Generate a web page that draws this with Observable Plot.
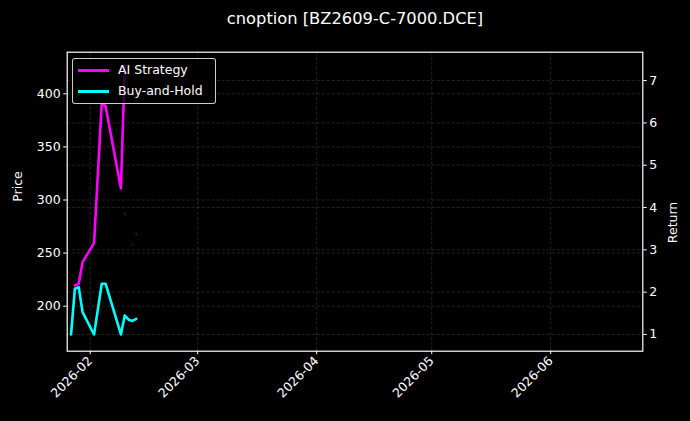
<!DOCTYPE html>
<html><head><meta charset="utf-8">
<script src="https://cdn.jsdelivr.net/npm/d3@7"></script>
<script src="https://cdn.jsdelivr.net/npm/@observablehq/plot@0.6"></script>
<style>
html,body{margin:0;padding:0;background:#000;}
#wrap{position:relative;width:690px;height:421px;background:#000;font-family:"DejaVu Sans",sans-serif;overflow:hidden;}
#wrap svg{display:block;}
#legend{position:absolute;left:72px;top:58px;width:144px;height:46px;box-sizing:border-box;border:1px solid rgba(255,255,255,0.8);border-radius:3px;background:rgba(0,0,0,0.8);color:#fff;font-size:12.5px;}
.item{position:absolute;left:0;height:16px;line-height:16px;}
.swatch{position:absolute;left:5px;top:7px;width:31px;height:3px;}
.lab{position:absolute;left:45px;top:0;white-space:nowrap;}
</style>
</head><body>
<div id="wrap"></div>
<script>
// ---- data ----
const title = "cnoption [BZ2609-C-7000.DCE]";
const seriesNames = ["AI Strategy", "Buy-and-Hold"];
const seriesColors = ["magenta", "cyan"];

const aiDates  = ["2026-01-28","2026-01-29","2026-01-30","2026-02-02","2026-02-04","2026-02-05","2026-02-09","2026-02-10"];
const aiValues = [2.16, 2.20, 2.71, 3.16, 6.45, 6.40, 4.45, 7.35];

const bhDates  = ["2026-01-27","2026-01-28","2026-01-29","2026-01-30","2026-02-02","2026-02-04","2026-02-05","2026-02-09","2026-02-10","2026-02-11","2026-02-12","2026-02-13"];
const bhValues = [1.00, 2.08, 2.12, 1.53, 1.00, 2.20, 2.20, 1.00, 1.45, 1.35, 1.32, 1.37];

const priceDates  = ["2026-02-10","2026-02-12","2026-02-13"];
const priceValues = [287, 258, 268];

const xDomain = ["2026-01-26","2026-06-25"];
const xTicks = ["2026-02-01","2026-03-01","2026-04-01","2026-05-01","2026-06-01"];
const returnDomain = [0.605, 7.67];
const returnTicks = [1,2,3,4,5,6,7];
const priceDomain = [157.6, 439.2];
const priceTicks = [200,250,300,350,400];

// ---- build ----
const p2r = d3.scaleLinear().domain(priceDomain).range(returnDomain);
const ai = aiDates.map((d,i)=>({date:new Date(d), value:aiValues[i]}));
const bh = bhDates.map((d,i)=>({date:new Date(d), value:bhValues[i]}));
const price = priceDates.map((d,i)=>({date:new Date(d), value:p2r(priceValues[i])}));
const monthTicks = xTicks.map(d=>new Date(d));
const priceTickPos = priceTicks.map(p=>p2r(p));
const gridStyle = {stroke:"#fff", strokeOpacity:0.18, strokeDasharray:"3,2", strokeWidth:0.8};

const chart = Plot.plot({
  width:690, height:421,
  marginLeft:66.7, marginRight:47.7, marginTop:51.7, marginBottom:70.3,
  style:{background:"#000", color:"#fff", fontFamily:"DejaVu Sans, sans-serif", fontSize:"12.5px"},
  x:{type:"utc", domain:xDomain.map(d=>new Date(d))},
  y:{domain:returnDomain},
  marks:[
    Plot.gridX(monthTicks, gridStyle),
    Plot.gridY(returnTicks, gridStyle),
    Plot.gridY(priceTickPos, gridStyle),
    Plot.dot(price, {x:"date", y:"value", r:1, fill:"#5a0c1e", stroke:null}),
    Plot.lineY(bh, {x:"date", y:"value", stroke:seriesColors[1], strokeWidth:2.6}),
    Plot.lineY(ai, {x:"date", y:"value", stroke:seriesColors[0], strokeWidth:2.6}),
    Plot.frame({stroke:"#fff", strokeWidth:1.2}),
    Plot.axisY(returnTicks, {anchor:"right", tickSize:3.5, tickPadding:3, label:null, fontSize:12.5, tickFormat:d=>String(d)}),
    Plot.axisY(priceTickPos, {anchor:"left", tickSize:3.5, tickPadding:3, label:null, fontSize:12.5, tickFormat:d=>String(Math.round(p2r.invert(d)))}),
    Plot.axisX(monthTicks, {anchor:"bottom", tickSize:3.5, tickPadding:4, tickRotate:-45, label:null, fontSize:12.5, tickFormat:d3.utcFormat("%Y-%m")}),
    Plot.text([title], {frameAnchor:"top", lineAnchor:"middle", dy:-33.5, fontSize:16.3, fill:"#fff"}),
    Plot.text(["Price"], {frameAnchor:"left", lineAnchor:"middle", rotate:-90, dx:-49.5, fontSize:12.5, fill:"#fff"}),
    Plot.text(["Return"], {frameAnchor:"right", lineAnchor:"middle", rotate:-90, dx:30.5, fontSize:12.5, fill:"#fff"})
  ]
});
const wrap = document.getElementById("wrap");
wrap.appendChild(chart);

// legend
const leg = document.createElement("div");
leg.id = "legend";
seriesNames.forEach((n,i)=>{
  const it = document.createElement("div");
  it.className = "item";
  it.style.top = (3 + i*21.4) + "px";
  it.style.width = "100%";
  const sw = document.createElement("div");
  sw.className = "swatch"; sw.style.background = seriesColors[i];
  const lb = document.createElement("div");
  lb.className = "lab"; lb.textContent = n;
  it.appendChild(sw); it.appendChild(lb);
  leg.appendChild(it);
});
wrap.appendChild(leg);
</script>
</body></html>
